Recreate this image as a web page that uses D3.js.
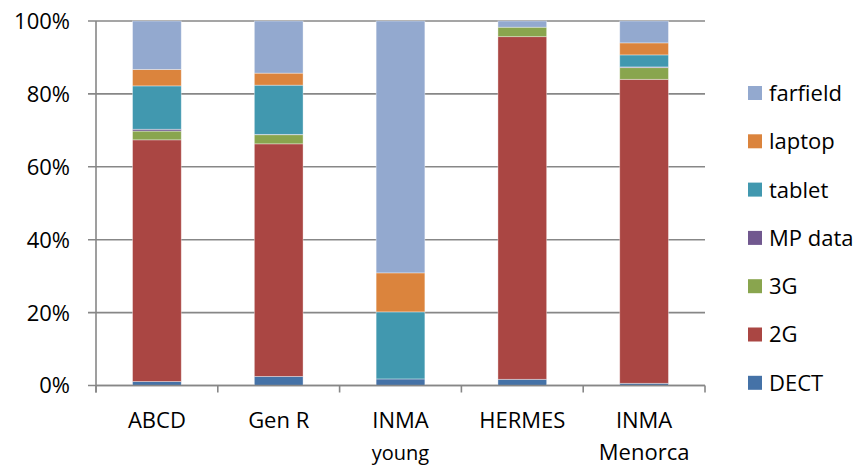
<!DOCTYPE html>
<html><head><meta charset="utf-8">
<script src="https://cdn.jsdelivr.net/npm/d3@7"></script>
<style>body{margin:0;background:#fff}svg{display:block}text{font-family:"Open Sans",sans-serif;fill:#000}</style>
</head><body><svg id="c" width="863" height="465"></svg>
<script>
const categories = [["ABCD"],["Gen R"],["INMA","young"],["HERMES"],["INMA","Menorca"]];
const seriesNames = ["DECT","2G","3G","MP data","tablet","laptop","farfield"];
const seriesColors = ["#4572A7","#AA4643","#89A54E","#71588F","#4198AF","#DB843D","#93A9CF"];
const DECT     = [1.1, 2.5, 1.8, 1.7, 0.6];
const G2       = [66.3, 63.8, 0, 94.0, 83.4];
const G3       = [2.4, 2.5, 0, 2.6, 3.2];
const MPdata   = [0.5, 0.1, 0, 0, 0.2];
const tablet   = [11.9, 13.5, 18.4, 0, 3.3];
const laptop   = [4.5, 3.3, 10.7, 0, 3.3];
const farfield = [13.3, 14.3, 69.1, 1.7, 6.0];
const yTicks = [0,20,40,60,80,100];

const values = [DECT,G2,G3,MPdata,tablet,laptop,farfield];
const rows = categories.map((c,i)=>{const r={key:i};seriesNames.forEach((s,j)=>r[s]=values[j][i]);return r;});
const stack = d3.stack().keys(seriesNames).offset(d3.stackOffsetExpand)(rows);

const svg = d3.select("#c");
const L=96,R=705,T=21,B=385.5;
const x = d3.scaleBand().domain(categories.map((c,i)=>i)).range([L,R]).paddingInner(0.6).paddingOuter(0.3);
const y = d3.scaleLinear().domain([0,1]).range([B,T]);
const grid="#878787";

// gridlines
svg.append("g").selectAll("line").data(yTicks).join("line")
  .attr("x1",L-8).attr("x2",R).attr("y1",d=>y(d/100)).attr("y2",d=>y(d/100))
  .attr("stroke",grid).attr("stroke-width",1.6);

// y labels
svg.append("g").selectAll("text").data(yTicks).join("text")
  .attr("x",70).attr("y",d=>y(d/100)).attr("dy","0.36em").attr("text-anchor","end")
  .attr("font-size",22).text(d=>d+"%");

// bars
svg.append("g").selectAll("g").data(stack).join("g").attr("fill",(d,i)=>seriesColors[i])
  .selectAll("rect").data(d=>d).join("rect")
  .attr("x",d=>x(d.data.key)).attr("width",x.bandwidth())
  .attr("y",d=>y(d[1])).attr("height",d=>Math.max(0,y(d[0])-y(d[1])))
  .attr("stroke","#fff").attr("stroke-opacity",0.45).attr("stroke-width",0.8);

// axes
svg.append("line").attr("x1",L).attr("x2",L).attr("y1",T).attr("y2",B+7).attr("stroke",grid).attr("stroke-width",1.6);
svg.append("line").attr("x1",L).attr("x2",R).attr("y1",B).attr("y2",B).attr("stroke",grid).attr("stroke-width",1.6);
const step = (R-L)/categories.length;
svg.append("g").selectAll("line").data(d3.range(categories.length+1)).join("line")
  .attr("x1",i=>L+i*step).attr("x2",i=>L+i*step).attr("y1",B).attr("y2",B+7)
  .attr("stroke",grid).attr("stroke-width",1.6);

// x labels
const xl = svg.append("g").selectAll("text").data(categories).join("text")
  .attr("text-anchor","middle").attr("font-size",22)
  .attr("x",(d,i)=>x(i)+x.bandwidth()/2).attr("y",427.5);
xl.selectAll("tspan").data(d=>d).join("tspan")
  .attr("x",function(){return this.parentNode.getAttribute("x");})
  .attr("dy",(d,i)=>i?32:0).attr("font-size",d=>d==="young"?20:22).text(d=>d);

// legend
const leg = svg.append("g").selectAll("g").data(seriesNames.slice().reverse()).join("g")
  .attr("transform",(d,i)=>`translate(748,${93+i*48.3})`);
leg.append("rect").attr("x",0).attr("y",-7).attr("width",14).attr("height",14)
  .attr("fill",d=>seriesColors[seriesNames.indexOf(d)]);
leg.append("text").attr("x",21).attr("dy","0.36em").attr("font-size",22).text(d=>d);
</script></body></html>
